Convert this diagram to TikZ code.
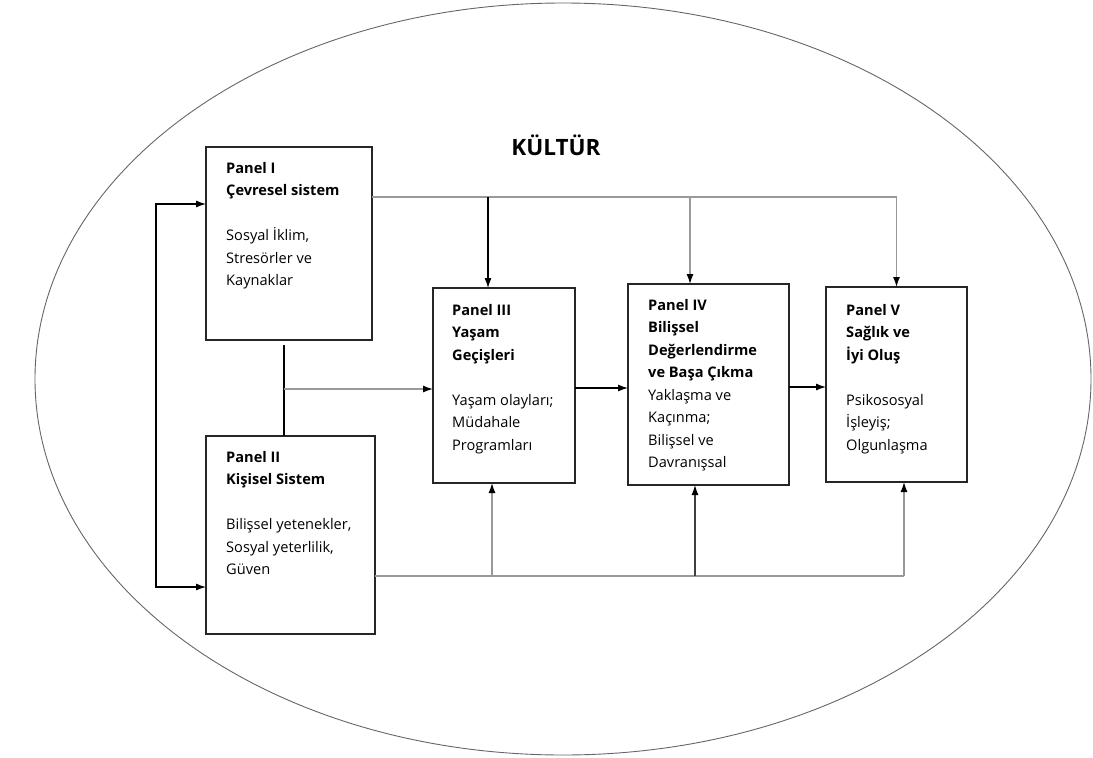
\documentclass[tikz,border=0pt]{standalone}
\usepackage{fontspec}
\setmainfont{Open Sans}
\usetikzlibrary{arrows.meta,calc}
\begin{document}
\begin{tikzpicture}[x=1pt,y=-1pt,
  panelbox/.style={draw=black!85,line width=1.1pt,minimum width=#1,inner sep=0,outer sep=0},
  txt/.style={anchor=north west,align=left,inner sep=0,font={\fontsize{14.6}{22.5}\selectfont}},
  gline/.style={draw=black!40,line width=1.3pt},
  bline/.style={draw=black,line width=1.1pt},
  tip/.style={-{Latex[black,length=10pt,width=7pt]}}
]
\useasboundingbox (0,0) rectangle (1093,758);
\draw[black!60,line width=0.9pt] (563,379) ellipse [x radius=528pt, y radius=376pt];
\node[font={\fontsize{22.5}{26}\selectfont\bfseries}] (kultur) at (556,145) {KÜLTÜR};

\node[panelbox=166pt,minimum height=193pt] (p1) at (289,243.5) {};
\node[panelbox=169pt,minimum height=198pt] (p2) at (290.5,535) {};
\node[panelbox=142pt,minimum height=195pt] (p3) at (504,385.5) {};
\node[panelbox=161pt,minimum height=201pt] (p4) at (708.5,384.5) {};
\node[panelbox=141pt,minimum height=195pt] (p5) at (896.5,384.5) {};

\node[txt] (t1) at (226,162) {\textbf{Panel I}\\\textbf{Çevresel sistem}\\[22.5pt]Sosyal İklim,\\Stresörler ve\\Kaynaklar};
\node[txt] (t2) at (226,451) {\textbf{Panel II}\\\textbf{Kişisel Sistem}\\[22.5pt]Bilişsel yetenekler,\\Sosyal yeterlilik,\\Güven};
\node[txt] (t3) at (452,304) {\textbf{Panel III}\\\textbf{Yaşam}\\\textbf{Geçişleri}\\[22.5pt]Yaşam olayları;\\Müdahale\\Programları};
\node[txt] (t4) at (648,299) {\textbf{Panel IV}\\\textbf{Bilişsel}\\\textbf{Değerlendirme}\\\textbf{ve Başa Çıkma}\\Yaklaşma ve\\Kaçınma;\\Bilişsel ve\\Davranışsal};
\node[txt] (t5) at (846,304) {\textbf{Panel V}\\\textbf{Sağlık ve}\\\textbf{İyi Oluş}\\[22.5pt]Psikososyal\\İşleyiş;\\Olgunlaşma};

% left loop
\coordinate (la) at (156,204);
\coordinate (lb) at (156,587);
\draw[bline,{Latex[length=10pt,width=7pt]}-{Latex[length=10pt,width=7pt]}] (la -| p1.west) -- (la) -- (lb) -- (lb -| p2.west);

% top line
\coordinate (ta) at (488,197);
\coordinate (tb) at (690,197);
\coordinate (tc) at (896.5,197);
\draw[gline] (ta -| p1.east) -- (tc);
\draw[bline,tip] (ta) -- (ta |- p3.north);
\draw[gline,tip] (tb) -- (tb |- p4.north);
\draw[gline,tip] (tc) -- (p5.north);

% middle link between panel I and II
\coordinate (ma) at (284,345);
\coordinate (mb) at (284,389);
\draw[black,line width=2.4pt] (ma) -- (ma |- p2.north);
\draw[gline,tip] (mb) -- (mb -| p3.west);

% horizontal chain
\coordinate (ha) at (575,388);
\coordinate (hb) at (789,387);
\draw[bline,tip] (ha) -- (ha -| p4.west);
\draw[bline,tip] (hb) -- (hb -| p5.west);

% bottom line
\coordinate (ba) at (492,576);
\coordinate (bb) at (695,576);
\coordinate (bc) at (904,576);
\draw[gline] (ba -| p2.east) -- (bc);
\draw[gline,tip] (ba) -- (ba |- p3.south);
\draw[black!75,line width=1.2pt,tip] (bb) -- (bb |- p4.south);
\draw[gline,tip] (bc) -- (bc |- p5.south);
\end{tikzpicture}
\end{document}
